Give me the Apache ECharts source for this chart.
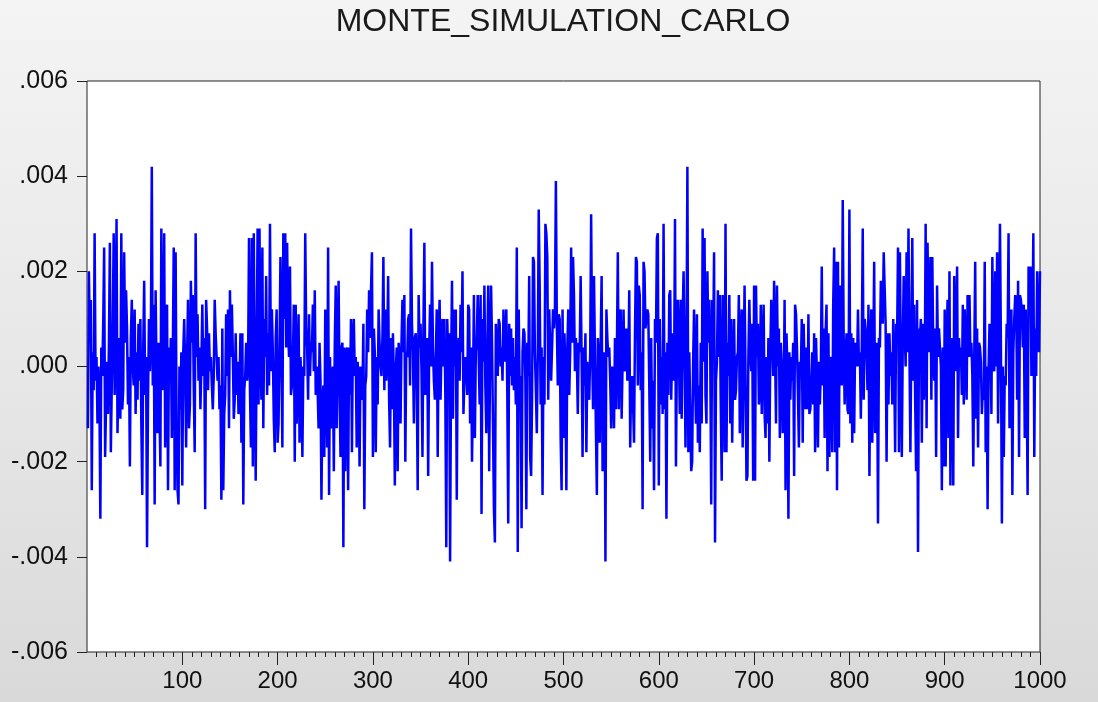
<!DOCTYPE html>
<html>
<head>
<meta charset="utf-8">
<script src="https://cdn.jsdelivr.net/npm/echarts@6/dist/echarts.min.js"></script>
<style>
html,body{margin:0;padding:0;}
body{width:1098px;height:702px;background:linear-gradient(to bottom,#f4f4f4 0%,#e8e8e8 50%,#d9d9d9 100%);}
#chart{width:1098px;height:702px;}
</style>
</head>
<body>
<div id="chart"></div>
<script>
// Chart title
const chartTitle = 'MONTE_SIMULATION_CARLO';
const seg1 = [-13,20,5,14,-26,3,-5,28,-3,2,
-12,0,-6,-32,4,-2,9,25,-19,-8,
1,-10,5,26,-18,-4,8,28,-6,10,
31,-14,-2,6,-11,28,-9,-5,24,5,
16,8,-8,2,-21,6,14,0,-4,12,
-10,3,-7,9,-3,10,-12,-27,4,18,
-6,2,-38,-8,10,-1,6,42,-4,13,
-29,16,-2,-14,5,-9,-21,29,-5,3,
28,-17,1,13,-26,4,-3,6,-15,2,
25,-26,24,-12,-26,-29,0,-9,3,-25];
const seg2 = [3,10,0,-17,2,14,-13,-8,18,5,
15,-4,-18,28,2,11,-3,4,-9,0,
13,-2,6,-30,14,8,-5,7,-1,2,
-4,-9,-2,14,7,7,-3,2,-9,-4,
-28,8,-26,-10,-6,11,-2,12,-13,16,
2,13,3,-11,-7,7,-6,1,-10,-5,
7,-16,7,-29,-5,-2,5,-3,0,27,
-5,-17,27,-21,28,0,-24,3,29,-8,
29,4,-7,25,-13,10,2,19,-6,7,
-4,30,-1,12,3,-11,-18,6,12,-16];
const seg3 = [-12,4,23,3,-17,28,10,28,4,26,
8,2,21,-6,-4,1,13,-20,13,-12,
-3,11,-16,2,-4,-19,0,-2,28,8,
4,-7,11,-2,5,3,13,-1,16,-6,
0,-5,-13,5,-3,-28,-8,-4,-19,12,
-3,-17,25,-27,2,-13,-2,0,-22,5,
17,-13,3,18,-5,-19,4,5,-38,4,
-22,3,4,-26,4,-6,10,-18,6,10,
-2,2,-17,1,-3,-21,0,-4,-7,9,
-30,-4,-2,12,3,16,6,16,24,-19];
const seg4 = [8,3,-18,2,-8,12,5,0,-2,6,
23,-5,12,-3,4,19,-7,-17,6,-9,
7,-2,-25,-1,4,-22,5,2,-12,5,
14,3,15,-20,3,2,10,11,-4,29,
9,3,-12,6,7,-3,-26,15,4,9,
-1,-19,8,26,-6,1,6,-23,3,13,
0,22,4,-3,-7,2,12,-19,6,14,
-7,5,10,0,10,-6,-38,10,2,7,
-41,-1,18,-11,12,0,12,-28,4,6,
-3,13,3,20,-10,-3,2,0,-6,13];
const seg5 = [12,-12,4,-20,-5,15,-15,3,6,15,
2,-8,15,-31,10,1,17,-4,-14,3,
17,-22,3,17,5,5,-30,-37,9,2,
-2,10,9,0,4,-3,12,1,5,12,
-5,-33,9,-2,8,-4,6,-5,2,-8,
25,-39,12,-5,-2,-34,3,8,7,-3,
-30,5,-2,19,-19,-23,-7,23,22,3,
-5,-14,2,33,17,-8,4,-27,2,-8,
30,28,23,-7,12,12,-3,4,12,8,
12,39,9,-4,11,10,-15,-26,12,-15];
const seg6 = [7,-2,-26,4,12,-6,3,25,5,23,
15,-1,6,2,-10,5,3,19,2,-19,
4,-4,7,-18,1,-5,-7,3,32,4,
-9,19,2,-13,-27,6,2,-16,5,19,
-22,-15,3,-41,12,6,2,4,-3,-13,
0,-2,-13,6,-9,3,24,-9,5,12,
-11,-11,12,-1,0,8,-3,1,16,-17,
-3,-2,-8,-16,7,23,22,-4,17,15,
-5,3,-30,22,20,8,8,12,11,-4,
-20,6,-13,-3,-26,10,5,27,28,-25];
const seg7 = [10,-8,2,-10,30,-9,3,-32,5,-6,
15,16,-7,4,7,-3,31,-21,2,14,
5,-10,14,-11,10,20,3,-17,2,42,
-18,3,3,-22,-20,1,12,-3,-12,11,
-16,-4,-18,5,-12,29,1,27,-6,-12,
20,5,14,2,-29,14,3,24,-37,-3,
1,16,2,15,-8,-24,15,3,-18,30,
-18,5,-2,15,-12,10,-16,0,10,-7,
-5,2,3,15,-14,5,12,-17,0,17,
-2,-24,-23,2,14,3,-1,9,-24,17];
const seg8 = [-24,17,2,9,-8,-5,13,-10,4,13,
-10,-15,2,-12,6,-20,3,14,6,-2,
18,3,-12,17,0,8,-15,5,0,-14,
-8,14,-26,7,-1,-32,3,-7,2,-3,
5,-23,13,11,4,-6,-17,1,-2,10,
-16,9,-2,-9,4,-9,11,-10,-9,-4,
3,-8,7,-18,6,-3,-17,1,-8,-1,
21,-4,8,-15,7,13,-22,7,-19,2,
0,-18,13,25,-18,22,-26,22,-17,17,
16,-4,35,6,-8,2,7,-9,-10,33];
const seg9 = [-12,7,-16,6,-14,5,2,0,12,0,
3,-11,5,29,-7,10,8,3,-5,13,
-23,2,12,-16,1,22,-14,-14,5,-33,
6,4,18,18,9,24,24,9,-20,7,
-8,7,-2,3,-8,10,0,-18,9,5,
25,-18,24,0,-19,5,19,8,0,24,
3,29,3,-18,6,27,-3,13,-7,-22,
14,-39,8,6,10,-16,9,-7,-3,30,
-13,26,9,3,23,-7,23,3,-3,8,
-19,17,2,8,4,0,-26,4,-21,12];
const seg10 = [-21,4,14,-15,20,-25,6,1,-25,19,
-1,4,21,-15,6,0,4,-6,13,-8,
12,3,-7,15,2,15,2,5,-2,-21,
2,22,-11,8,-17,5,4,1,-10,-5,
-7,22,-18,0,-30,-1,9,7,-10,23,
0,-1,20,0,24,-12,7,30,4,-33,
0,-19,-2,-4,9,6,28,-13,7,12,
-27,3,10,15,14,-7,18,-19,15,14,
11,4,13,-15,12,-3,-27,21,14,21,
-2,6,28,-19,8,-2,20,5,3,20];
const valueUnit = 0.0001;
// Tick labels
const xMajorTicks = [100,200,300,400,500,600,700,800,900,1000];
const xMinorTicks = [];
for (let t = 10; t < 1000; t += 10) { if (t % 100 !== 0) xMinorTicks.push(t); }
const yTicks = [-0.006,-0.004,-0.002,0,0.002,0.004,0.006];

const allVals = [].concat(seg1,seg2,seg3,seg4,seg5,seg6,seg7,seg8,seg9,seg10);
const seriesData = allVals.map((v, i) => [i + 1, v * valueUnit]);

const FONT = "'Liberation Sans', Arial, sans-serif";
const chart = echarts.init(document.getElementById('chart'), null, {renderer: 'canvas'});
chart.setOption({
  animation: false,
  backgroundColor: 'transparent',
  textStyle: {fontFamily: FONT},
  title: {
    text: chartTitle,
    left: 558,
    textAlign: 'center',
    top: 1,
    textStyle: {fontSize: 32, fontWeight: 'normal', color: '#1a1a1a', fontFamily: FONT}
  },
  grid: {
    left: 87, right: 58, top: 81, bottom: 50,
    show: true, backgroundColor: '#ffffff', borderColor: '#222', borderWidth: 1
  },
  xAxis: [{
    type: 'value', min: 0, max: 1000, interval: 10, position: 'bottom',
    axisLine: {show: false, onZero: false},
    axisTick: {show: true, interval: 0, length: 5, inside: false, customValues: xMinorTicks, lineStyle: {color: '#222', width: 1}},
    axisLabel: {show: false},
    splitLine: {show: false}
  }, {
    type: 'value', min: 0, max: 1000, interval: 100, position: 'bottom', offset: 0,
    axisLine: {show: false, onZero: false},
    axisTick: {show: true, length: 13, inside: false, customValues: xMajorTicks, lineStyle: {color: '#222', width: 1}},
    axisLabel: {show: true, customValues: xMajorTicks, fontSize: 24, color: '#111', margin: 17, fontFamily: FONT,
      formatter: v => String(v)},
    splitLine: {show: false}
  }],
  yAxis: {
    type: 'value', min: -0.006, max: 0.006, interval: 0.002,
    axisLine: {show: false, onZero: false},
    axisTick: {show: true, length: 10, inside: false, customValues: yTicks, lineStyle: {color: '#222', width: 1}},
    axisLabel: {
      show: true, customValues: yTicks, fontSize: 25, color: '#111', margin: 19, fontFamily: FONT,
      formatter: v => Number(v).toFixed(3).replace('0.', '.')
    },
    splitLine: {show: false}
  },
  series: [{
    type: 'line',
    xAxisIndex: 0,
    data: seriesData,
    showSymbol: false,
    symbol: 'none',
    lineStyle: {color: '#0000ff', width: 2.5, join: 'bevel'},
    emphasis: {disabled: true}
  }]
});
</script>
</body>
</html>
